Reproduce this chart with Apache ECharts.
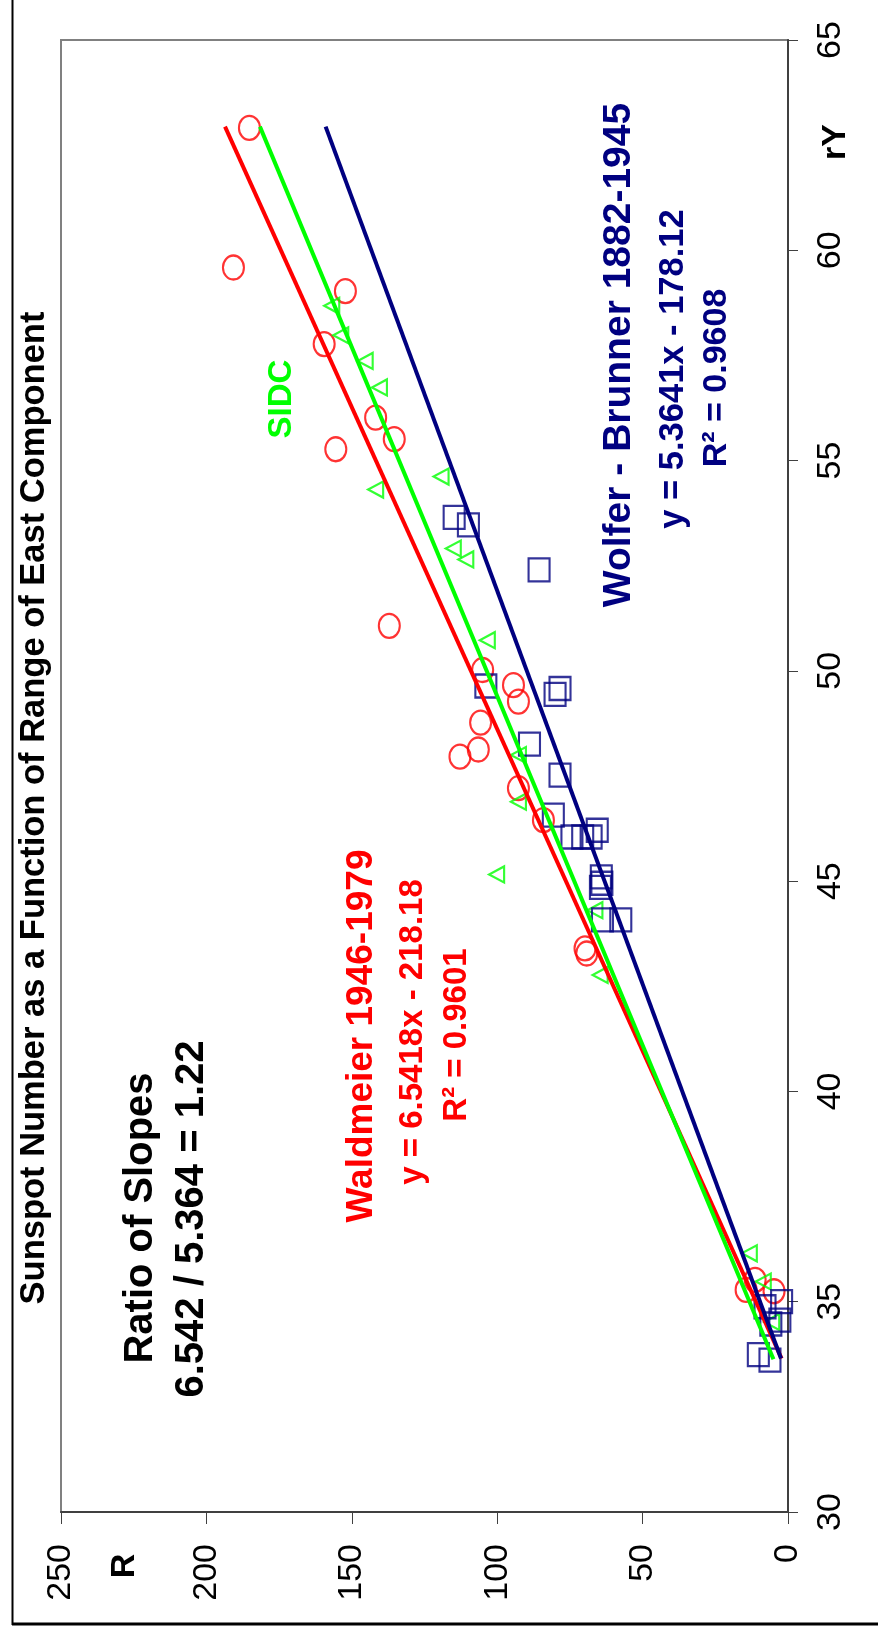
<!DOCTYPE html>
<html>
<head>
<meta charset="utf-8">
<script src="https://cdn.jsdelivr.net/npm/echarts@6/dist/echarts.min.js"></script>
<style>
  html, body { margin: 0; padding: 0; background: #fff; }
  #chart { width: 878px; height: 1637px; }
</style>
</head>
<body>
<div id="chart"></div>
<script>
// [R, rY] pairs
const waldmeier = [
    [185.2, 62.91], [190.7, 59.59], [152.2, 59.03], [159.5, 57.77], [141.8, 56.02],
    [135.4, 55.51], [155.5, 55.27], [137.1, 51.07], [105.0, 50.02], [94.4, 49.66],
    [92.7, 49.27], [105.7, 48.77], [106.5, 48.13], [112.8, 47.96], [92.7, 47.21],
    [84.1, 46.45], [69.8, 43.40], [69.2, 43.28], [11.3, 35.52], [14.4, 35.28],
    [4.8, 35.25]
];
const sidc = [
    [156.9, 58.68], [153.8, 57.98], [145.4, 57.37], [140.5, 56.74], [119.3, 54.62],
    [141.8, 54.31], [115.1, 52.91], [110.8, 52.65], [103.4, 50.73], [92.7, 48.0],
    [92.7, 46.89], [100.2, 45.16], [66.4, 44.31], [64.6, 42.77], [13.3, 36.15],
    [8.5, 35.48], [5.6, 34.52]
];
const wolfer = [
    [114.8, 53.65], [109.9, 53.47], [85.6, 52.40], [103.9, 49.64], [78.4, 49.58],
    [80.1, 49.44], [88.9, 48.26], [78.4, 47.52], [80.7, 46.57], [65.6, 46.21],
    [74.3, 46.05], [70.6, 46.05], [67.7, 46.05], [64.2, 45.10], [64.0, 44.95],
    [64.5, 44.85], [63.8, 44.08], [57.5, 44.08], [2.2, 35.0], [7.9, 34.88],
    [2.8, 34.56], [5.9, 34.47], [10.2, 33.74], [6.2, 33.61]
];
// trendline end points
const waldmeierFit = [[2.2, 33.65], [193.6, 62.94]];
const sidcFit = [[5.0, 33.63], [181.6, 62.94]];
const wolferFit = [[2.4, 33.65], [159.0, 62.94]];

const rMin = 0, rMax = 250, rStep = 50;
const ryMin = 30, ryMax = 65, ryStep = 5;

const RED = '#FF0000';
const GREEN = '#00FF00';
const NAVY = '#000080';
const FONT = '"Liberation Sans", Arial, sans-serif';

function rotText(text, x, y, size, color, bold) {
    return {
        type: 'text',
        x: x,
        y: y,
        rotation: Math.PI / 2,
        z: 100,
        style: {
            text: text,
            fill: color,
            font: (bold ? 'bold ' : '') + size + 'px ' + FONT,
            align: 'center',
            verticalAlign: 'middle'
        }
    };
}

function scatter(name, data, symbol, size, color, rotate) {
    return {
        name: name,
        type: 'scatter',
        data: data,
        symbol: symbol,
        symbolSize: size,
        symbolRotate: rotate || 0,
        itemStyle: { color: 'transparent', borderColor: color, borderWidth: 2.2 },
        z: 2
    };
}

function fit(name, data, color) {
    return {
        name: name,
        type: 'line',
        data: data,
        showSymbol: false,
        symbol: 'none',
        lineStyle: { color: color, width: 4 },
        z: 3
    };
}

const chart = echarts.init(document.getElementById('chart'), null, { renderer: 'canvas' });

chart.setOption({
    animation: false,
    backgroundColor: '#fff',
    grid: {
        left: 61, right: 90, top: 40, bottom: 125,
        show: true, borderColor: '#808080', borderWidth: 2
    },
    xAxis: {
        type: 'value',
        inverse: true,
        position: 'bottom',
        min: rMin, max: rMax, interval: rStep,
        axisLine: { show: true, onZero: false, lineStyle: { color: '#404040', width: 2 } },
        axisTick: { show: true, length: 12, lineStyle: { color: '#404040', width: 1 } },
        axisLabel: { rotate: 90, margin: 32, fontSize: 34, color: '#000', fontFamily: FONT },
        splitLine: { show: false }
    },
    yAxis: {
        type: 'value',
        position: 'right',
        min: ryMin, max: ryMax, interval: ryStep,
        axisLine: { show: true, onZero: false, lineStyle: { color: '#404040', width: 2 } },
        axisTick: { show: true, length: 10, lineStyle: { color: '#404040', width: 1 } },
        axisLabel: { rotate: 90, margin: 26, fontSize: 34, color: '#000', fontFamily: FONT },
        splitLine: { show: false }
    },
    series: [
        scatter('Waldmeier 1946-1979', waldmeier, 'circle', [21, 24], RED),
        scatter('SIDC', sidc, 'triangle', [16, 15], GREEN, 90),
        scatter('Wolfer - Brunner 1882-1945', wolfer, 'rect', [21, 23], NAVY),
        fit('Waldmeier fit', waldmeierFit, RED),
        fit('SIDC fit', sidcFit, GREEN),
        fit('Wolfer fit', wolferFit, NAVY)
    ],
    graphic: [
        // outer frame (left and bottom edges visible)
        { type: 'line', shape: { x1: 12.5, y1: 0, x2: 12.5, y2: 1625 }, style: { stroke: '#000', lineWidth: 2 } },
        { type: 'line', shape: { x1: 12, y1: 1624, x2: 878, y2: 1624 }, style: { stroke: '#000', lineWidth: 3 } },
        rotText('Sunspot Number as a Function of Range of East Component', 34.5, 808, 34.5, '#000', true),
        rotText('Ratio of Slopes', 141, 1218, 40, '#000', true),
        rotText('6.542 / 5.364 = 1.22', 192, 1219, 40, '#000', true),
        rotText('Waldmeier 1946-1979', 362, 1036, 37, RED, true),
        rotText('y = 6.5418x - 218.18', 413, 1032, 33, RED, true),
        rotText('R\u00b2 = 0.9601', 456.5, 1035, 33, RED, true),
        rotText('SIDC', 281.5, 399, 33, GREEN, true),
        rotText('Wolfer - Brunner 1882-1945', 619, 355, 39, NAVY, true),
        rotText('y = 5.3641x - 178.12', 673, 369, 34.5, NAVY, true),
        rotText('R\u00b2 = 0.9608', 716.5, 378, 34, NAVY, true),
        rotText('R', 124.5, 1566, 34, '#000', true),
        rotText('rY', 835.5, 142, 34, '#000', true)
    ]
});
</script>
</body>
</html>
